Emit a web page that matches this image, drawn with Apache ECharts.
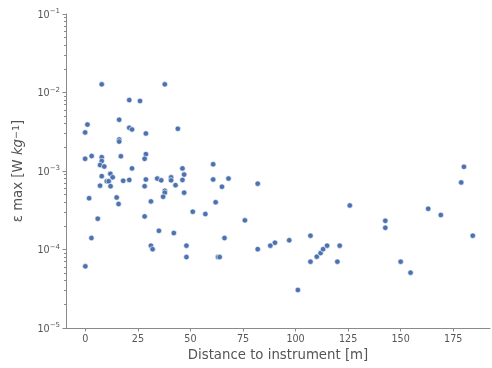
<!DOCTYPE html>
<html>
<head>
<meta charset="utf-8">
<script src="https://cdn.jsdelivr.net/npm/echarts@6/dist/echarts.min.js"></script>
<style>
  html, body { margin: 0; padding: 0; background: #fff; }
  #chart { width: 492px; height: 368px; }
</style>
</head>
<body>
<div id="chart"></div>
<script>
// Distance to instrument [m]
const distance = [
  7.8, 37.8, 20.9, 26.0, 16.1, 1.0, -0.1, 20.9, 22.2, 44.0,
  28.8, 16.1, 16.1, -0.1, 3.0, 7.8, 7.8, 16.9, 28.8, 28.2,
  7.0, 9.0, 22.2, 46.2, 60.8, 7.8, 11.9, 13.0, 68.1, 10.2,
  11.1, 7.0, 12.0, 18.0, 20.9, 28.8, 28.2, 34.2, 36.1, 40.8,
  40.8, 42.9, 37.8, 37.8, 37.0, 1.8, 14.9, 15.8, 31.2, 5.9,
  28.2, 47.0, 46.2, 60.8, 65.0, 82.0, 47.0, 62.0, 51.1, 57.1,
  75.9, 2.9, 35.0, 42.1, 31.2, 32.0, 48.1, 48.1, 63.1, 63.9,
  66.2, 82.0, 88.0, 90.2, 0.0, 97.0, 101.1, 107.1, 107.1, 110.1,
  111.9, 113.1, 115.0, 119.9, 121.0, 125.8, 142.7, 142.7, 150.0, 154.7,
  163.1, 169.1, 178.8, 180.1, 184.3
];
// epsilon max [W kg^-1]
const epsMax = [
  0.0127, 0.0127, 0.0080, 0.0078, 0.0045, 0.0039, 0.0031, 0.00355, 0.00338, 0.00345,
  0.0030, 0.00252, 0.00237, 0.00143, 0.00155, 0.0015, 0.00134, 0.00154, 0.00164, 0.00143,
  0.00119, 0.00114, 0.00108, 0.00108, 0.00122, 0.00086, 0.00092, 0.00083, 0.0008, 0.00074,
  0.00074, 0.00065, 0.00064, 0.00075, 0.00077, 0.00078, 0.00064, 0.0008, 0.00076, 0.00083,
  0.00076, 0.00066, 0.00056, 0.00053, 0.00047, 0.00045, 0.00046, 0.00038, 0.00041, 0.000247,
  0.000264, 0.0009, 0.00077, 0.00078, 0.00063, 0.00069, 0.00053, 0.0004, 0.000303, 0.000283,
  0.000235, 0.00014, 0.000173, 0.000162, 0.000112, 0.000101, 0.000112, 0.00008, 0.00008, 0.00008,
  0.00014, 0.000101, 0.000112, 0.000122, 0.000061, 0.000131, 0.0000305, 0.00015, 0.00007, 0.000081,
  0.00009, 0.000101, 0.000112, 0.00007, 0.000112, 0.000364, 0.000232, 0.000189, 0.00007, 0.0000507,
  0.00033, 0.000275, 0.000715, 0.00113, 0.00015
];
const xTicks = [0, 25, 50, 75, 100, 125, 150, 175];
const yTicks = [1e-5, 1e-4, 1e-3, 1e-2, 1e-1];
const yMinorTicks = [];
for (let e = -5; e < -1; e++) {
  for (let m = 2; m <= 9; m++) yMinorTicks.push(m * Math.pow(10, e));
}

const axisColor = '#8a8a8a';
const textColor = '#555555';
const font = 'DejaVu Sans';

const chart = echarts.init(document.getElementById('chart'), null, { renderer: 'canvas' });
chart.setOption({
  animation: false,
  backgroundColor: '#ffffff',
  textStyle: { fontFamily: font },
  grid: { left: 66, right: 2, top: 14, bottom: 40, containLabel: false },
  xAxis: {
    type: 'value',
    min: -9.2,
    max: 192.5,
    name: 'Distance to instrument [m]',
    nameLocation: 'middle',
    nameGap: 21,
    nameTextStyle: { fontFamily: font, fontSize: 13.3, color: textColor },
    axisLine: { show: true, onZero: false, lineStyle: { color: axisColor, width: 1 } },
    axisTick: { show: true, customValues: xTicks, length: 3.5, lineStyle: { color: axisColor } },
    axisLabel: { customValues: xTicks, margin: 6, fontFamily: font, fontSize: 9.6, color: textColor },
    splitLine: { show: false }
  },
  yAxis: [
    {
      type: 'log',
      logBase: 10,
      min: 1e-5,
      max: 1e-1,
      name: '{n|ε max [W }{i|kg}{s|−1}{n|]}',
      nameLocation: 'middle',
      nameGap: 41,
      nameRotate: 90,
      nameTextStyle: {
        color: textColor,
        rich: {
          n: { fontFamily: font, fontSize: 13.3, color: textColor },
          i: { fontFamily: font, fontSize: 13.3, fontStyle: 'italic', color: textColor },
          s: { fontFamily: font, fontSize: 9.5, color: textColor, verticalAlign: 'top', lineHeight: 10 }
        }
      },
      axisLine: { show: true, onZero: false, lineStyle: { color: axisColor, width: 1 } },
      axisTick: { show: true, customValues: yTicks, length: 3.5, lineStyle: { color: axisColor } },
      axisLabel: {
        customValues: yTicks,
        margin: 6,
        formatter: function (v) {
          const e = Math.round(Math.log10(v));
          return '{b|10}{s|−' + Math.abs(e) + '}';
        },
        rich: {
          b: { fontFamily: font, fontSize: 9.6, color: textColor, lineHeight: 12, verticalAlign: 'bottom' },
          s: { fontFamily: font, fontSize: 7, color: textColor, verticalAlign: 'top', lineHeight: 8 }
        }
      },
      splitLine: { show: false }
    },
    {
      type: 'log',
      logBase: 10,
      min: 1e-5,
      max: 1e-1,
      position: 'left',
      axisLine: { show: false, onZero: false },
      axisTick: { show: true, customValues: yMinorTicks, length: 2, lineStyle: { color: axisColor } },
      axisLabel: { show: false },
      splitLine: { show: false }
    }
  ],
  series: [
    {
      type: 'scatter',
      yAxisIndex: 0,
      data: distance.map((d, i) => [d, epsMax[i]]),
      symbol: 'circle',
      symbolSize: 5.5,
      itemStyle: { color: '#4c72b0', borderColor: '#ffffff', borderWidth: 0.6, opacity: 1 }
    }
  ]
});
</script>
</body>
</html>
